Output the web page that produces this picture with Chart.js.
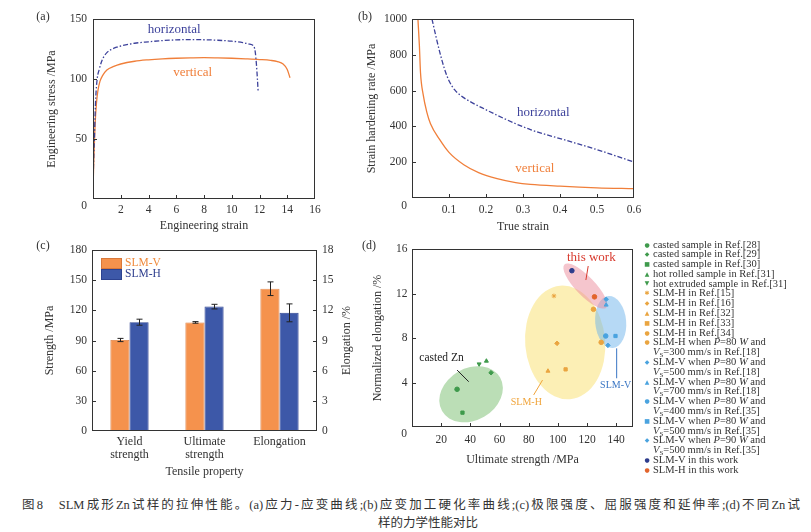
<!DOCTYPE html>
<html><head><meta charset="utf-8">
<script src="https://cdn.jsdelivr.net/npm/chart.js@4/dist/chart.umd.min.js"></script>
<style>
html,body{margin:0;padding:0;background:#fff;}
#wrap{position:relative;width:811px;height:532px;overflow:hidden;background:#fff;font-family:"Liberation Serif",serif;color:#333;}
canvas{position:absolute;}
.plab{position:absolute;font-size:12px;transform:translate(-50%,-50%);color:#333;}
#legC{position:absolute;left:101px;top:257px;font-size:11.5px;line-height:11px;}
#legC div{position:relative;height:11px;padding-left:24px;}
#legC span.box{position:absolute;left:0;top:1px;width:19px;height:9px;}
#legD{position:absolute;left:643px;top:239.5px;font-size:10.5px;line-height:9.8px;color:#333;white-space:nowrap;}
#legD div{position:relative;padding-left:10px;}
#legD span.mk{position:absolute;left:0;top:0;width:8px;text-align:center;font-family:"DejaVu Sans",sans-serif;font-size:6px;line-height:9.8px;}
#legD sub{font-size:7px;vertical-align:-2px;line-height:0;}
.cap{position:absolute;font-family:"Liberation Serif","Noto Sans CJK SC",serif;font-size:12.5px;color:#333;white-space:nowrap;}
</style></head>
<body>
<div id="wrap">
  <canvas id="ca" width="330" height="240" style="left:0;top:0"></canvas>
  <canvas id="cb" width="320" height="240" style="left:330px;top:0"></canvas>
  <canvas id="cc" width="360" height="250" style="left:0;top:230px"></canvas>
  <canvas id="cd" width="280" height="250" style="left:360px;top:230px"></canvas>
  <div class="plab" style="left:43px;top:16px">(a)</div>
  <div class="plab" style="left:365px;top:16px">(b)</div>
  <div class="plab" style="left:43px;top:245px">(c)</div>
  <div class="plab" style="left:369px;top:245px">(d)</div>
  <div id="legC"></div>
  <div id="legD"></div>
  <div class="cap" id="cap1" style="left:22px;top:494px;width:778px;text-align:justify;text-align-last:justify;">图8&nbsp;&nbsp;&nbsp;SLM成形Zn试样的拉伸性能。(a)应力-应变曲线;(b)应变加工硬化率曲线;(c)极限强度、屈服强度和延伸率;(d)不同Zn试</div>
  <div class="cap" style="left:378px;top:512px;">样的力学性能对比</div>
</div>
<script>
// ---------------- DATA ----------------
// (a) engineering stress-strain curves
const aHorizStrain = [0.03,0.06,0.1,0.15,0.2,0.3,0.45,0.6,0.8,1.0,1.3,1.7,2,3,4,5,6,7,8,9,10,10.8,11.3,11.6,11.7,11.78,11.85,11.9];
const aHorizStress = [25,38,50,70,85,100,108,114,119,122,124.5,126.5,127.5,129.8,131,132,132.6,132.8,132.7,132.3,131.5,130.3,129,127,122,112,100,90];
const aVertStrain = [0.02,0.08,0.15,0.25,0.35,0.5,0.7,1,1.5,2,3,4,5,6,7,8,9,10,11,12,12.8,13.3,13.7,14.0,14.2];
const aVertStress = [16,40,62,80,90,98,103,107.5,110.5,112.5,114.8,116,116.8,117.3,117.6,117.8,117.6,117.3,116.8,116.2,115.5,114.5,112.5,108,101];
// (b) strain hardening rate curves
const bHorizStrain = [0.054,0.065,0.075,0.088,0.1,0.115,0.13,0.156,0.2,0.255,0.32,0.41,0.5,0.6];
const bHorizRate = [1000,900,815,720,655,605,575,540,493,438,382,326,270,201];
const bVertStrain = [0.016,0.02,0.023,0.03,0.04,0.05,0.075,0.1,0.14,0.18,0.23,0.28,0.32,0.4,0.5,0.6];
const bVertRate = [1000,850,700,580,480,415,326,255,186,142,108,86,76,66,57,52];
// (c) tensile properties: [yield strength MPa, ultimate strength MPa, elongation %]
const cCategories = [['Yield','strength'],['Ultimate','strength'],'Elongation'];
const cSeriesNames = ['SLM-V','SLM-H'];
const cSlmV = [90.5, 108.0, 14.15];
const cSlmVErr = [1.6, 0.8, 0.68];
const cSlmH = [108.2, 123.7, 11.75];
const cSlmHErr = [3.0, 2.3, 0.89];
const cLeftTicks = [0,30,60,90,120,150,180];
const cRightTicks = [0,3,6,9,12,15,18];
// (d) ultimate strength vs normalized elongation
const dNames = ['casted sample in Ref.[28]','casted sample in Ref.[29]','casted sample in Ref.[30]','hot rolled sample in Ref.[31]','hot extruded sample in Ref.[31]',
 'SLM-H in Ref.[15]','SLM-H in Ref.[16]','SLM-H in Ref.[32]','SLM-H in Ref.[33]','SLM-H in Ref.[34]',
 'SLM-H when P=80 W and Vs=300 mm/s in Ref.[18]','SLM-V when P=80 W and Vs=500 mm/s in Ref.[18]','SLM-V when P=80 W and Vs=700 mm/s in Ref.[18]',
 'SLM-V when P=80 W and Vs=400 mm/s in Ref.[35]','SLM-V when P=80 W and Vs=500 mm/s in Ref.[35]','SLM-V when P=90 W and Vs=500 mm/s in Ref.[35]',
 'SLM-V in this work','SLM-H in this work'];
const dStrength = [30.9,54.2,34.6,51.0,46.0, 97.3,99.4,93.2,105.3,124.4,129.7, 133.1,133.1,132.8,139.5,134.3, 109.6,125.1];
const dElong = [3.39,4.88,1.29,5.93,5.66, 11.78,7.52,5.03,5.18,10.58,7.61, 11.48,10.97,8.18,8.18,7.34, 14.05,11.7];
const dGroupNames = ['casted Zn','SLM-H','SLM-V','this work'];
const dGroupCx = [40.5,105,136.2,118.8];
const dGroupCy = [2.94,7.6,9.44,12.67];
const dLabelX = [20.2,78.4,139.6,122.9];
const dLabelY = [6.18,2.18,3.78,15.19];
const dLeaderX1 = [30.9,83.4,140.3,120.8], dLeaderY1 = [5.12,2.88,4.38,14.47];
const dLeaderX2 = [38.9,89.5,140.3,119.2], dLeaderY2 = [4.07,4.22,7.07,13.21];

// ---------------- STYLES ----------------
const BLUE='#3d429b', ORANGE='#f07f3a', AXC='#333';
const GREEN='#3f9a4c', GOLD='#eaa540', LBLUE='#4aa3df';
Chart.defaults.font.family='"Liberation Serif", serif';
Chart.defaults.color=AXC;
const dStyles = [
 {c:GREEN,s:'circle'},{c:GREEN,s:'rectRot'},{c:GREEN,s:'rect'},{c:GREEN,s:'triangle'},{c:GREEN,s:'triangle',r:180},
 {c:GOLD,s:'star'},{c:GOLD,s:'rectRot'},{c:GOLD,s:'triangle'},{c:GOLD,s:'rect'},{c:GOLD,s:'circle'},{c:GOLD,s:'circle'},
 {c:LBLUE,s:'rectRot'},{c:LBLUE,s:'triangle'},{c:LBLUE,s:'circle'},{c:LBLUE,s:'rect'},{c:LBLUE,s:'rectRot'},
 {c:'#2d3c8c',s:'circle'},{c:'#e2642c',s:'circle'}];
const glyph = {circle:'●',rectRot:'◆',rect:'■',triangle:'▲',star:'✱'};
const ellStyle = [
 {rx:33.5,ry:26,rot:-30,color:'rgba(120,190,110,0.5)'},
 {rx:40,ry:57,rot:-5,color:'rgba(250,225,120,0.55)'},
 {rx:15.5,ry:26,rot:-5,color:'rgba(110,180,235,0.5)'},
 {rx:30,ry:9.5,rot:46,color:'rgba(235,140,155,0.5)'}];
const dLabelColor = ['#222','#f0a43a','#3a76c4','#d83a2e'];
const dLabelFont = ['11.5px','10px','10px','13px'];

// ---------------- helpers ----------------
function pts(xs,ys){return xs.map((x,i)=>({x,y:ys[i]}));}
function extras(cfg){
  return {
    id:'extras',
    beforeDatasetsDraw(chart){
      const {ctx,chartArea:a,scales}=chart;
      if(cfg.ellipses){
        ctx.save(); ctx.beginPath(); ctx.rect(a.left,a.top,a.width,a.height); ctx.clip();
        cfg.ellipses.forEach(e=>{
          ctx.beginPath();
          ctx.ellipse(scales.x.getPixelForValue(e.x),scales.y.getPixelForValue(e.y),e.rx,e.ry,e.rot*Math.PI/180,0,2*Math.PI);
          ctx.fillStyle=e.color; ctx.fill();
        });
        ctx.restore();
      }
    },
    afterDraw(chart){
      const {ctx,chartArea:a,scales}=chart;
      ctx.save();
      // error bars
      if(cfg.errors){
        ctx.strokeStyle='#222'; ctx.lineWidth=1;
        cfg.errors.forEach((errs,di)=>{
          const meta=chart.getDatasetMeta(di);
          const vals=chart.data.datasets[di].data;
          meta.data.forEach((el,j)=>{
            const e=errs[j]*(j===2?cfg.factor:1);
            const yt=scales.y.getPixelForValue(vals[j]+e), yb=scales.y.getPixelForValue(vals[j]-e);
            const x=Math.round(el.x)+0.5;
            ctx.beginPath();
            ctx.moveTo(x,yt);ctx.lineTo(x,yb);
            ctx.moveTo(x-3,yt);ctx.lineTo(x+3,yt);
            ctx.moveTo(x-3,yb);ctx.lineTo(x+3,yb);
            ctx.stroke();
          });
        });
      }
      // frame
      ctx.strokeStyle=AXC; ctx.lineWidth=1;
      ctx.strokeRect(Math.round(a.left)+0.5,Math.round(a.top)+0.5,Math.round(a.width)-1,Math.round(a.height)-1);
      // inward ticks
      (cfg.tickAxes||[]).forEach(id=>{
        const s=scales[id];
        s.ticks.forEach((t,i)=>{
          const p=Math.round(s.getPixelForTick(i))+0.5;
          ctx.beginPath();
          if(s.isHorizontal()){ if(p<=a.left+2||p>=a.right-2) return; ctx.moveTo(p,a.bottom);ctx.lineTo(p,a.bottom-4);}
          else if(s.position==='left'){ if(p>=a.bottom-2||p<=a.top+2) return; ctx.moveTo(a.left,p);ctx.lineTo(a.left+4,p);}
          else { if(p>=a.bottom-2||p<=a.top+2) return; ctx.moveTo(a.right,p);ctx.lineTo(a.right-4,p);}
          ctx.stroke();
        });
      });
      // leader lines
      (cfg.lines||[]).forEach(l=>{
        ctx.strokeStyle=l.color; ctx.lineWidth=1;
        ctx.beginPath();
        ctx.moveTo(scales.x.getPixelForValue(l.x1),scales.y.getPixelForValue(l.y1));
        ctx.lineTo(scales.x.getPixelForValue(l.x2),scales.y.getPixelForValue(l.y2));
        ctx.stroke();
      });
      // texts at data coords
      ctx.textAlign='center'; ctx.textBaseline='middle';
      (cfg.texts||[]).forEach(t=>{
        ctx.fillStyle=t.color; ctx.font=t.font+' "Liberation Serif", serif';
        ctx.fillText(t.text,scales.x.getPixelForValue(t.x),scales.y.getPixelForValue(t.y));
      });
      // origin zero
      if(cfg.zero){
        ctx.fillStyle=AXC; ctx.font='11.5px "Liberation Serif", serif';
        ctx.textAlign='right';
        ctx.fillText('0',a.left-cfg.zero.dx,a.bottom+cfg.zero.dy);
      }
      // rotated right-axis title
      if(cfg.rightTitle){
        const s=scales[cfg.rightTitle.axis];
        ctx.translate(s.right-cfg.rightTitle.off,(a.top+a.bottom)/2);
        ctx.rotate(-Math.PI/2);
        ctx.fillStyle=AXC; ctx.font='12px "Liberation Serif", serif'; ctx.textAlign='center';
        ctx.fillText(cfg.rightTitle.text,0,0);
      }
      ctx.restore();
    }
  };
}
function axis(o){
  return Object.assign({
    grid:{display:false,drawTicks:false},
    border:{display:false},
  },o);
}
const tickFont={size:11.5};
const titleFont={size:12};
function hideZero(dec){return v=>v===0?'':(dec?(+v).toFixed(dec):String(v));}

// ---------------- (a) ----------------
new Chart(document.getElementById('ca'),{
  type:'scatter',
  data:{datasets:[
    {label:'horizontal',data:pts(aHorizStrain,aHorizStress),showLine:true,borderColor:BLUE,borderWidth:1.3,borderDash:[5,2,1.5,2],pointRadius:0,cubicInterpolationMode:'monotone'},
    {label:'vertical',data:pts(aVertStrain,aVertStress),showLine:true,borderColor:ORANGE,borderWidth:1.3,pointRadius:0,cubicInterpolationMode:'monotone'}
  ]},
  options:{
    responsive:false,animation:false,events:[],
    layout:{padding:{top:19,right:15,left:0,bottom:0}},
    plugins:{legend:{display:false},tooltip:{enabled:false}},
    scales:{
      x:axis({type:'linear',min:0,max:16,ticks:{stepSize:2,font:tickFont,padding:4.5,maxRotation:0,callback:hideZero()},
        title:{display:true,text:'Engineering strain',font:titleFont,padding:{top:0,bottom:6.5}},afterFit(s){s.height=41;}}),
      y:axis({min:0,max:150,ticks:{stepSize:50,font:tickFont,padding:6,callback:hideZero()},
        title:{display:true,text:'Engineering stress /MPa',font:titleFont,padding:{top:44.8,bottom:0}},afterFit(s){s.width=93;}})
    }
  },
  plugins:[extras({tickAxes:['x','y'],zero:{dx:6,dy:7},texts:[
    {text:'horizontal',x:5.85,y:140.8,color:BLUE,font:'13px'},
    {text:'vertical',x:7.18,y:105,color:ORANGE,font:'13px'}]})]
});

// ---------------- (b) ----------------
new Chart(document.getElementById('cb'),{
  type:'scatter',
  data:{datasets:[
    {label:'horizontal',data:pts(bHorizStrain,bHorizRate),showLine:true,borderColor:BLUE,borderWidth:1.3,borderDash:[5,2,1.5,2],pointRadius:0,cubicInterpolationMode:'monotone'},
    {label:'vertical',data:pts(bVertStrain,bVertRate),showLine:true,borderColor:ORANGE,borderWidth:1.3,pointRadius:0,cubicInterpolationMode:'monotone'}
  ]},
  options:{
    responsive:false,animation:false,events:[],
    layout:{padding:{top:19,right:16,left:0,bottom:0}},
    plugins:{legend:{display:false},tooltip:{enabled:false}},
    scales:{
      x:axis({type:'linear',min:0,max:0.6,ticks:{stepSize:0.1,font:tickFont,padding:5,maxRotation:0,callback:hideZero(1)},
        title:{display:true,text:'True strain',font:titleFont,padding:{top:0,bottom:6}},afterFit(s){s.height=42;}}),
      y:axis({min:0,max:1000,ticks:{stepSize:200,font:tickFont,padding:5,callback:hideZero()},
        title:{display:true,text:'Strain hardening rate /MPa',font:titleFont,padding:{top:34.8,bottom:0}},afterFit(s){s.width=82;}})
    }
  },
  plugins:[extras({tickAxes:['x','y'],zero:{dx:5,dy:8},texts:[
    {text:'horizontal',x:0.355,y:475,color:BLUE,font:'13px'},
    {text:'vertical',x:0.332,y:162,color:ORANGE,font:'13px'}]})]
});

// ---------------- (c) ----------------
const cFactor = cLeftTicks[cLeftTicks.length-1]/cRightTicks[cRightTicks.length-1];
const cColors=[{bg:'#f5924d',bd:'#d9783a',tx:'#f08a3c'},{bg:'#3d58a8',bd:'#2c4290',tx:'#2e3e8e'}];
const cData=[cSlmV,cSlmH].map(arr=>arr.map((v,i)=>i===2?v*cFactor:v));
new Chart(document.getElementById('cc'),{
  type:'bar',
  data:{labels:cCategories,datasets:cData.map((d,i)=>({label:cSeriesNames[i],data:d,backgroundColor:cColors[i].bg,borderColor:cColors[i].bd,borderWidth:0.8,categoryPercentage:0.51,barPercentage:1.0}))},
  options:{
    responsive:false,animation:false,events:[],
    layout:{padding:{top:20,right:0,left:0,bottom:0}},
    plugins:{legend:{display:false},tooltip:{enabled:false}},
    scales:{
      x:axis({ticks:{font:{size:12,lineHeight:1.1},padding:4.5,maxRotation:0},
        title:{display:true,text:'Tensile property',font:titleFont,padding:{top:0,bottom:1}},afterFit(s){s.height=49;}}),
      y:axis({min:0,max:cLeftTicks[cLeftTicks.length-1],ticks:{stepSize:30,font:tickFont,padding:5},
        title:{display:true,text:'Strength /MPa',font:titleFont,padding:{top:42.8,bottom:0}},afterFit(s){s.width=92;}}),
      y1:axis({position:'right',min:0,max:cRightTicks[cRightTicks.length-1],ticks:{stepSize:3,font:tickFont,padding:5},afterFit(s){s.width=43;}})
    }
  },
  plugins:[extras({tickAxes:['y','y1'],errors:[cSlmVErr,cSlmHErr],factor:cFactor,rightTitle:{axis:'y1',off:13,text:'Elongation /%'}})]
});
document.getElementById('legC').innerHTML=cSeriesNames.map((n,i)=>
  `<div style="color:${cColors[i].tx}"><span class="box" style="background:${cColors[i].bg};border:0.8px solid ${cColors[i].bd}"></span>${n}</div>`).join('');

// ---------------- (d) ----------------
new Chart(document.getElementById('cd'),{
  type:'scatter',
  data:{datasets:dNames.map((n,i)=>({label:n,data:[{x:dStrength[i],y:dElong[i]}],
    pointStyle:dStyles[i].s,rotation:dStyles[i].r||0,backgroundColor:dStyles[i].c,borderColor:dStyles[i].c,borderWidth:1,pointRadius:2.3}))},
  options:{
    responsive:false,animation:false,events:[],
    layout:{padding:{top:19,right:7,left:0,bottom:0}},
    plugins:{legend:{display:false},tooltip:{enabled:false}},
    scales:{
      x:axis({type:'linear',min:0,max:151.5,ticks:{stepSize:20,includeBounds:false,font:tickFont,padding:6.5,maxRotation:0,callback:hideZero()},
        title:{display:true,text:'Ultimate strength /MPa',font:titleFont,padding:{top:0,bottom:12.8}},afterFit(s){s.height=53;}}),
      y:axis({min:0,max:16,ticks:{stepSize:4,font:tickFont,padding:4.5,callback:hideZero()},
        title:{display:true,text:'Normalized elongation /%',font:titleFont,padding:{top:10.8,bottom:0}},afterFit(s){s.width=52;}})
    }
  },
  plugins:[extras({tickAxes:['x','y'],zero:{dx:5,dy:7},
    ellipses:dGroupCx.map((cx,i)=>Object.assign({x:cx,y:dGroupCy[i]},ellStyle[i])),
    lines:dGroupNames.map((n,i)=>({x1:dLeaderX1[i],y1:dLeaderY1[i],x2:dLeaderX2[i],y2:dLeaderY2[i],color:i===0?'#222':dLabelColor[i]})),
    texts:dGroupNames.map((n,i)=>({text:n,x:dLabelX[i],y:dLabelY[i],color:dLabelColor[i],font:dLabelFont[i]}))})]
});
function richName(n){
  return n.replace(/P=/g,'<i>P</i>=').replace(/ W /g,' <i>W</i> ').replace(/ and Vs=/,' and<br><i>V</i><sub>S</sub>=');
}
document.getElementById('legD').innerHTML=dNames.map((n,i)=>{
  const st=dStyles[i];
  const g=glyph[st.s]; const rot=st.r?`transform:rotate(${st.r}deg);`:'';
  return `<div><span class="mk" style="color:${st.c};${rot}">${g}</span>${richName(n)}</div>`;
}).join('');
</script>
</body></html>
